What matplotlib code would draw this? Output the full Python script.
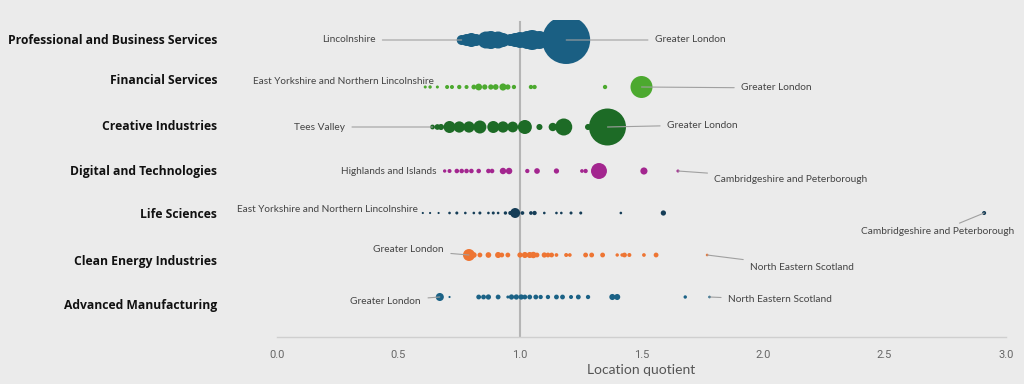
import matplotlib
matplotlib.use("Agg")
import matplotlib.pyplot as plt
import matplotlib.transforms as mtransforms

# ---------------- data ----------------
sectors = [
    "Professional and Business Services",
    "Financial Services",
    "Creative Industries",
    "Digital and Technologies",
    "Life Sciences",
    "Clean Energy Industries",
    "Advanced Manufacturing",
]

# location quotients per sector (one point per region)
lq_professional = [0.76, 0.78, 0.80, 0.82, 0.86, 0.88, 0.91, 0.93, 0.96, 0.98, 1.00, 1.03, 1.05, 1.08, 1.10, 1.19]
emp_professional = [43, 62, 85, 62, 125, 140, 125, 85, 62, 85, 110, 140, 173, 140, 85, 995]

lq_financial = [0.61, 0.63, 0.66, 0.70, 0.72, 0.75, 0.78, 0.81, 0.83, 0.855, 0.88, 0.90, 0.93, 0.95, 0.975, 1.045, 1.06, 1.35, 1.50]
emp_financial = [4, 5, 4, 7, 7, 8, 7, 10, 20, 12, 12, 14, 22, 12, 8, 8, 8, 8, 209]

lq_creative = [0.64, 0.66, 0.675, 0.71, 0.75, 0.79, 0.835, 0.89, 0.93, 0.97, 1.02, 1.08, 1.135, 1.18, 1.28, 1.36]
emp_creative = [10, 14, 16, 62, 55, 55, 73, 62, 55, 50, 85, 16, 30, 125, 16, 591]

lq_digital = [0.69, 0.71, 0.74, 0.76, 0.78, 0.80, 0.83, 0.87, 0.885, 0.93, 0.955, 1.03, 1.07, 1.15, 1.255, 1.27, 1.325, 1.51, 1.65]
emp_digital = [5, 7, 9, 9, 9, 9, 9, 9, 9, 18, 18, 8, 14, 12, 6, 8, 110, 22, 4]

lq_life = [0.60, 0.63, 0.665, 0.71, 0.74, 0.775, 0.81, 0.835, 0.87, 0.89, 0.91, 0.94, 0.96, 0.98, 1.01, 1.045, 1.06, 1.10, 1.15, 1.17, 1.21, 1.25, 1.415, 1.59, 2.91]
emp_life = [2, 2, 2, 3, 4, 3, 3, 4, 3, 4, 3, 5, 7, 43, 6, 6, 8, 3, 3, 3, 4, 4, 3, 12, 7]

lq_clean = [0.79, 0.81, 0.835, 0.87, 0.91, 0.925, 0.95, 1.00, 1.02, 1.04, 1.055, 1.07, 1.10, 1.115, 1.13, 1.15, 1.19, 1.205, 1.27, 1.295, 1.34, 1.40, 1.42, 1.43, 1.45, 1.51, 1.56, 1.77]
emp_clean = [62, 14, 10, 14, 16, 10, 10, 12, 16, 16, 18, 10, 12, 10, 10, 6, 7, 6, 10, 10, 10, 5, 5, 10, 7, 6, 10, 3]

lq_advanced = [0.67, 0.71, 0.83, 0.85, 0.87, 0.91, 0.95, 0.965, 0.985, 1.005, 1.02, 1.04, 1.065, 1.085, 1.115, 1.15, 1.175, 1.21, 1.24, 1.28, 1.38, 1.40, 1.68, 1.78]
emp_advanced = [28, 2, 10, 10, 12, 10, 4, 12, 12, 12, 10, 10, 10, 8, 8, 10, 10, 7, 10, 8, 16, 16, 5, 3]

lq_series = [lq_professional, lq_financial, lq_creative, lq_digital, lq_life, lq_clean, lq_advanced]
emp_series = [emp_professional, emp_financial, emp_creative, emp_digital, emp_life, emp_clean, emp_advanced]

# labelled regions: (sector index, region name, index of point in series)
labelled = [
    (0, "Lincolnshire", 0),
    (0, "Greater London", 15),
    (1, "East Yorkshire and Northern Lincolnshire", 0),
    (1, "Greater London", 18),
    (2, "Tees Valley", 0),
    (2, "Greater London", 15),
    (3, "Highlands and Islands", 0),
    (3, "Cambridgeshire and Peterborough", 18),
    (4, "East Yorkshire and Northern Lincolnshire", 0),
    (4, "Cambridgeshire and Peterborough", 24),
    (5, "Greater London", 0),
    (5, "North Eastern Scotland", 27),
    (6, "Greater London", 0),
    (6, "North Eastern Scotland", 23),
]

x_ticks = [0.0, 0.5, 1.0, 1.5, 2.0, 2.5, 3.0]

# ---------------- layout / style ----------------
colors = ["#1a5f83", "#4ca92f", "#1d6b26", "#a3268f", "#153d57", "#ee7533", "#1b6286"]
# vertical layout in figure-pixel units (y axis runs 337 at bottom to 20 at top)
row_y = [40, 87, 127, 171, 213, 255, 297]
row_label_y = [41, 81, 127, 171, 215, 261, 305]
# label text positions (x in data, y pixel, ha, leader line?)
label_pos = [
    (0.405, 40, "right", True),
    (1.555, 40, "left", True),
    (0.645, 82, "right", False),
    (1.91, 88, "left", True),
    (0.28, 127, "right", True),
    (1.605, 125, "left", True),
    (0.655, 171, "right", False),
    (1.80, 179, "left", True),
    (0.58, 210, "right", False),
    (2.72, 232, "center", True),
    (0.687, 250, "right", True),
    (1.947, 267, "left", True),
    (0.593, 301, "right", True),
    (1.856, 300, "left", True),
]

bg = "#ebebeb"
fig = plt.figure(figsize=(10.24, 3.84), dpi=100, facecolor=bg)
ax = fig.add_axes([277 / 1024, 47 / 384, 729 / 1024, 317 / 384], facecolor=bg)

ax.set_xlim(0, 3)
ax.set_ylim(337, 20)

ax.plot([1, 1], [337, 22], color="#b5b5b5", lw=1.5, zorder=1)

size_k = 1.2
for i, (lqs, emps) in enumerate(zip(lq_series, emp_series)):
    ax.scatter(lqs, [row_y[i]] * len(lqs), s=[e * size_k for e in emps], color=colors[i],
               linewidths=0, zorder=3)

for (si, name, pi), (tx, ty, ha, leader) in zip(labelled, label_pos):
    px = lq_series[si][pi]
    if leader:
        ax.annotate(name, xy=(px, row_y[si]), xytext=(tx, ty), ha=ha, va="center",
                    fontsize=7.3, color="#444444", family="Lato",
                    arrowprops=dict(arrowstyle="-", color="#a0a0a0", lw=0.8,
                                    shrinkA=3, shrinkB=0), zorder=4)
    else:
        ax.text(tx, ty, name, ha=ha, va="center", fontsize=7.2, color="#444444",
                family="Lato", zorder=4)

trans = mtransforms.blended_transform_factory(ax.transAxes, ax.transData)
for i, name in enumerate(sectors):
    ax.text(-60 / 729, row_label_y[i], name, transform=trans, ha="right", va="center",
            fontsize=8.7, fontweight="bold", color="#111111", family="Open Sans")

ax.set_yticks([])
ax.set_xticks(x_ticks)
ax.set_xticklabels([f"{t:.1f}" for t in x_ticks], fontsize=8, color="#666666", family="Roboto")
ax.tick_params(axis="x", length=0, pad=9)
ax.set_xlabel("Location quotient", fontsize=10, color="#555555", family="Lato", labelpad=3)
for sp in ["top", "right", "left"]:
    ax.spines[sp].set_visible(False)
ax.spines["bottom"].set_color("#cfcfcf")
ax.spines["bottom"].set_linewidth(1)

fig.savefig("out.png", dpi=100, facecolor=bg)
